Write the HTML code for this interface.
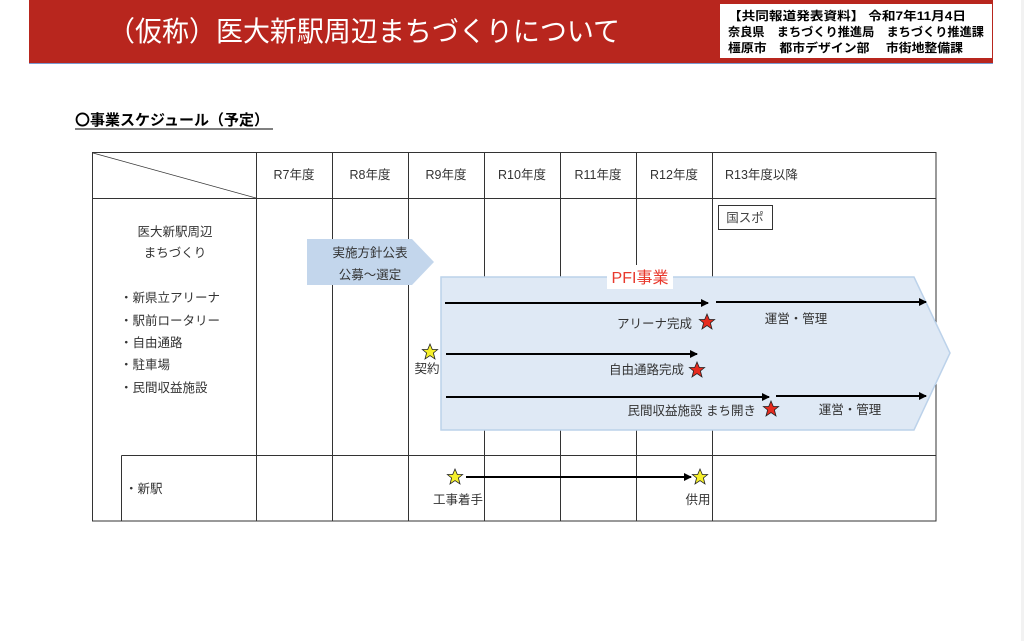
<!DOCTYPE html>
<html><head><meta charset="utf-8"><style>
html,body{margin:0;padding:0;background:#fff;width:1024px;height:641px;overflow:hidden}
svg{display:block;font-family:"Liberation Sans","Noto Sans CJK JP",sans-serif}
</style></head><body>
<svg width="1024" height="641" viewBox="0 0 1024 641" xmlns="http://www.w3.org/2000/svg">
<defs>
<polygon id="st" points="0,-8 2.3,-2.5 7.6,-2.5 3.4,1 5,7 0,3.6 -5,7 -3.4,1 -7.6,-2.5 -2.3,-2.5" stroke="#222" stroke-width="0.8"/>
<marker id="ah" markerWidth="8" markerHeight="8" refX="7" refY="4" orient="auto" markerUnits="userSpaceOnUse"><path d="M0,0 L8,4 L0,8 z" fill="#000"/></marker>
</defs>
<rect x="1021" y="0" width="3" height="641" fill="#f2f2f2"/>
<rect x="29" y="0" width="964" height="63" fill="#b8261e"/>
<line x1="29" y1="63.5" x2="993" y2="63.5" stroke="#7a9ad0" stroke-width="1"/>
<text x="108" y="41" font-size="28" fill="#fff" textLength="512" lengthAdjust="spacingAndGlyphs">（仮称）医大新駅周辺まちづくりについて</text>
<rect x="720" y="4" width="272" height="54" fill="#fff"/>
<g font-size="12" fill="#000" font-weight="bold">
<text x="728" y="20" textLength="238" lengthAdjust="spacingAndGlyphs">【共同報道発表資料】 令和7年11月4日</text>
<text x="728" y="36" textLength="256" lengthAdjust="spacingAndGlyphs">奈良県　まちづくり推進局　まちづくり推進課</text>
<text x="728" y="52" textLength="235" lengthAdjust="spacingAndGlyphs">橿原市　都市デザイン部　 市街地整備課</text>
</g>
<text x="75" y="125" font-size="15" font-weight="bold">〇事業スケジュール（予定）</text>
<line x1="75" y1="129" x2="273" y2="129" stroke="#000" stroke-width="1"/>

<g stroke="#333" stroke-width="1" fill="none">
<rect x="92.5" y="152.5" width="843.5" height="368.5"/>
<line x1="92.5" y1="198.5" x2="936" y2="198.5"/>
<line x1="121.5" y1="455.5" x2="936" y2="455.5"/>
<line x1="121.5" y1="455.5" x2="121.5" y2="521"/>
<line x1="93" y1="153" x2="256" y2="198" stroke-width="0.7"/>
<line x1="256.5" y1="152" x2="256.5" y2="521"/>
<line x1="332.5" y1="152" x2="332.5" y2="521"/>
<line x1="408.5" y1="152" x2="408.5" y2="521"/>
<line x1="484.5" y1="152" x2="484.5" y2="521"/>
<line x1="560.5" y1="152" x2="560.5" y2="521"/>
<line x1="636.5" y1="152" x2="636.5" y2="521"/>
<line x1="712.5" y1="152" x2="712.5" y2="521"/>
</g>
<g font-size="12.5" fill="#333">
<text x="294" y="179" text-anchor="middle">R7年度</text>
<text x="370" y="179" text-anchor="middle">R8年度</text>
<text x="446" y="179" text-anchor="middle">R9年度</text>
<text x="522" y="179" text-anchor="middle">R10年度</text>
<text x="598" y="179" text-anchor="middle">R11年度</text>
<text x="674" y="179" text-anchor="middle">R12年度</text>
<text x="725" y="179">R13年度以降</text>
<text x="175" y="236" text-anchor="middle">医大新駅周辺</text>
<text x="175" y="257" text-anchor="middle">まちづくり</text>
<text x="120" y="302">・新県立アリーナ</text>
<text x="120" y="325">・駅前ロータリー</text>
<text x="120" y="347">・自由通路</text>
<text x="120" y="369">・駐車場</text>
<text x="120" y="392">・民間収益施設</text>
<text x="125" y="493">・新駅</text>
</g>
<rect x="718.5" y="205.5" width="54" height="24" fill="#fff" stroke="#333"/>
<text x="745" y="222" font-size="12.5" fill="#444" text-anchor="middle">国スポ</text>

<polygon points="307,239 412,239 434,262 412,285 307,285" fill="#c3d6ec"/>
<text x="370" y="257" font-size="12.5" fill="#333" text-anchor="middle">実施方針公表</text>
<text x="370" y="279" font-size="12.5" fill="#333" text-anchor="middle">公募～選定</text>

<polygon points="441,277 914,277 950,353 914,430 441,430" fill="#dfe9f5" stroke="#bcd2ea" stroke-width="1.5"/>
<rect x="607" y="265" width="66" height="24" fill="#fff"/>
<text x="640" y="283" font-size="16" fill="#e8382c" text-anchor="middle">PFI事業</text>

<g stroke="#000" stroke-width="2" marker-end="url(#ah)">
<line x1="445" y1="303" x2="708" y2="303"/>
<line x1="716" y1="302" x2="926" y2="302"/>
<line x1="446" y1="354" x2="697" y2="354"/>
<line x1="446" y1="397" x2="769" y2="397"/>
<line x1="776" y1="396" x2="926" y2="396"/>
<line x1="466" y1="477" x2="691" y2="477"/>
</g>
<g font-size="12.5" fill="#333">
<text x="692" y="328" text-anchor="end">アリーナ完成</text>
<text x="796" y="323" text-anchor="middle">運営・管理</text>
<text x="684" y="374" text-anchor="end">自由通路完成</text>
<text x="756" y="415" text-anchor="end">民間収益施設 まち開き</text>
<text x="850" y="414" text-anchor="middle">運営・管理</text>
<text x="427" y="373" text-anchor="middle">契約</text>
<text x="458" y="504" text-anchor="middle">工事着手</text>
<text x="698" y="504" text-anchor="middle">供用</text>
</g>
<use href="#st" x="707" y="322" fill="#e62b1e"/>
<use href="#st" x="697" y="370" fill="#e62b1e"/>
<use href="#st" x="771" y="409" fill="#e62b1e"/>
<use href="#st" x="430" y="352" fill="#f5ef2a"/>
<use href="#st" x="455" y="477" fill="#f5ef2a"/>
<use href="#st" x="700" y="477" fill="#f5ef2a"/>
</svg>
</body></html>
